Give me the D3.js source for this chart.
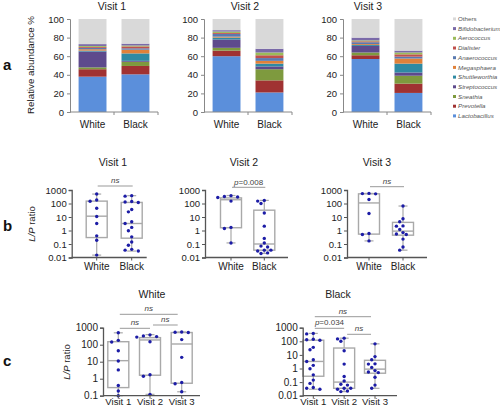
<!DOCTYPE html>
<html><head><meta charset="utf-8">
<script src="https://cdn.jsdelivr.net/npm/d3@7"></script>
<style>body{margin:0;background:#fff} svg{display:block;font-family:"Liberation Sans",Arial,sans-serif}</style>
</head><body><svg width="500" height="408"></svg>
<script>
// ---------------- DATA ----------------
const taxa = ["Lactobacillus","Prevotella","Sneathia","Streptococcus","Shuttleworthia","Megasphaera","Anaerococcus","Dialister","Aerococcus","Bifidobacterium","Others"];
const groups = ["White","Black"];
const visits = ["Visit 1","Visit 2","Visit 3"];
// relative abundance %, bottom to top in the order of `taxa`
const abundV1White = [38, 8, 2, 17, 1, 1.5, 1.5, 1, 1, 2, 27];
const abundV1Black = [40.5, 9, 4.5, 1, 8, 4, 1.5, 2, 1, 2, 26.5];
const abundV2White = [60, 6, 3, 9, 2, 1, 3, 1, 1.5, 1.5, 12];
const abundV2Black = [21, 13, 12, 3, 3, 3, 3, 3, 3, 4, 32];
const abundV3White = [57, 4, 3, 7, 1, 1, 2, 1, 1, 3, 20];
const abundV3Black = [20.5, 10, 8.5, 3.5, 9.5, 5.5, 2, 2.5, 2, 2, 34];
const abundTicks = [0, 20, 40, 60, 80, 100];

// L/P ratio per subject
const lpWhiteV1 = [500, 180, 145, 44, 11, 3.3, 0.4, 0.19, 0.015];
const lpWhiteV2 = [380, 330, 300, 280, 150, 1.7, 1.4, 0.12];
const lpWhiteV3 = [560, 540, 520, 200, 18, 0.6, 0.5, 0.17];
const lpBlackV1 = [380, 350, 140, 130, 120, 36, 24, 4.4, 3.3, 1.7, 0.95, 0.34, 0.14, 0.08, 0.04, 0.035, 0.03];
const lpBlackV2 = [170, 150, 100, 20, 2.1, 0.26, 0.12, 0.07, 0.06, 0.035, 0.03, 0.035, 0.022, 0.02];
const lpBlackV3 = [65, 7.5, 4.4, 2.2, 2.1, 1.2, 0.7, 0.55, 0.5, 0.23, 0.06, 0.035];
// box stats: [whisker low, q1, median, q3, whisker high]
const boxWhiteV1 = [0.015, 0.3, 11.5, 150, 500];
const boxWhiteV2 = [0.12, 1.6, 190, 260, 390];
const boxWhiteV3 = [0.17, 0.54, 110, 520, 560];
const boxBlackV1 = [0.03, 0.27, 3.3, 120, 380];
const boxBlackV2 = [0.02, 0.035, 0.1, 32, 170];
const boxBlackV3 = [0.035, 0.45, 0.9, 4, 65];
const logTicks = [0.01, 0.1, 1, 10, 100, 1000];
const logTickLabels = ["0.01", "0.1", "1", "10", "100", "1000"];
const sigB = ["ns", "p=0.008", "ns"];
const sigCWhite = [["Visit 1","Visit 3","ns"],["Visit 1","Visit 2","ns"],["Visit 2","Visit 3","ns"]];
const sigCBlack = [["Visit 1","Visit 3","ns"],["Visit 1","Visit 2","p=0.034"],["Visit 2","Visit 3","ns"]];

// ---------------- DRAW ----------------
const svg = d3.select("svg");
const color = d3.scaleOrdinal(taxa, ["#5b8fdb","#a03232","#7e9a3e","#5e4a8c","#2f8aa3","#e0813a","#5a7ab0","#c0504d","#9bbb59","#7a6aa8","#d9d9d9"]);

function label(x, y, txt, opt = {}) {
  const t = svg.append("text").attr("x", x).attr("y", y)
    .attr("font-size", opt.size || 10).attr("fill", opt.fill || "#222")
    .attr("text-anchor", opt.anchor || "middle");
  if (opt.weight) t.attr("font-weight", opt.weight);
  if (opt.italic) t.attr("font-style", "italic");
  if (opt.rotate) t.attr("transform", `rotate(-90,${x},${y})`);
  t.text(txt);
  return t;
}
function sigText(x, y, txt) {
  const t = svg.append("text").attr("x", x).attr("y", y).attr("font-size", 8)
    .attr("fill", "#444").attr("text-anchor", "middle");
  if (txt.startsWith("p=")) {
    t.append("tspan").attr("font-style", "italic").text("p");
    t.append("tspan").text(txt.slice(1));
  } else t.attr("font-style", "italic").text(txt);
}

// ---- panel a ----
label(3, 70, "a", {size: 15, weight: "bold", anchor: "start", fill: "#111"});
label(34, 65, "Relative abundance %", {size: 9.8, rotate: true});
const yA = d3.scaleLinear([0, 100], [112, 19]);
const abund = [[abundV1White, abundV1Black], [abundV2White, abundV2Black], [abundV3White, abundV3Black]];
const axA = [70, 204, 343];
const titleA = [112, 245, 368];
abund.forEach((pair, i) => {
  const x0 = axA[i];
  const x = d3.scaleBand(groups, [x0, x0 + 88]).paddingInner(0.35).paddingOuter(0.2);
  const rows = pair.map((vals, j) => { const r = {group: groups[j]}; taxa.forEach((t, k) => r[t] = vals[k]); return r; });
  const series = d3.stack().keys(taxa)(rows);
  const g = svg.append("g");
  g.selectAll("g").data(series).join("g").attr("fill", d => color(d.key))
    .selectAll("rect").data(d => d).join("rect")
    .attr("x", d => x(d.data.group)).attr("width", x.bandwidth())
    .attr("y", d => yA(d[1])).attr("height", d => yA(d[0]) - yA(d[1]));
  const ax = g.append("g").attr("transform", `translate(${x0},0)`)
    .call(d3.axisLeft(yA).tickValues(abundTicks).tickSize(3).tickPadding(3));
  ax.select(".domain").attr("stroke", "#888");
  ax.selectAll(".tick line").attr("stroke", "#888");
  ax.selectAll(".tick text").attr("font-size", 9.5).attr("fill", "#222").attr("font-family", null);
  const xa = g.append("g").attr("transform", `translate(0,${yA(0)})`)
    .call(d3.axisBottom(x).tickSize(0).tickPadding(9));
  xa.select(".domain").attr("stroke", "#888").attr("d", `M${x0},0H${x0 + 88}`);
  xa.selectAll(".tick text").attr("font-size", 10).attr("fill", "#222").attr("font-family", null);
  [x0 + 44, x0 + 88].forEach(tx => g.append("line").attr("x1", tx).attr("x2", tx).attr("y1", yA(0)).attr("y2", yA(0) + 3).attr("stroke", "#888"));
  label(titleA[i], 9.5, visits[i], {size: 10.5});
});
// legend
taxa.slice().reverse().forEach((t, i) => {
  const y = 19 + i * 9.7;
  svg.append("rect").attr("x", 453).attr("y", y - 1.6).attr("width", 3).attr("height", 3).attr("fill", color(t));
  label(458, y + 2, t, {size: 6.2, anchor: "start", fill: "#555", italic: t !== "Others"});
});

// ---- box plot helper ----
function dodge(vals, y, cx) {
  const placed = [], r = 1.7, step = 3.3;
  return vals.map(v => {
    const py = y(v);
    for (let k = 0; k < 30; k++) {
      const off = k === 0 ? 0 : (k % 2 ? -1 : 1) * Math.ceil(k / 2) * step;
      if (placed.every(p => Math.hypot(p.x - (cx + off), p.y - py) >= 2 * r + 0.4)) {
        placed.push({x: cx + off, y: py}); return {x: cx + off, y: py};
      }
    }
    return {x: cx, y: py};
  });
}
function boxPanel({x0, xEnd, cats, range, y, pts, boxes, tickVals, tickLabs, tickSize, catSize, catDy}) {
  const g = svg.append("g");
  const x = d3.scalePoint(cats, range);
  const bw = 21, cap = 9;
  cats.forEach((c, i) => {
    const cx = x(c), b = boxes[i];
    const st = "#a9a9a9";
    g.append("line").attr("x1", cx).attr("x2", cx).attr("y1", y(b[3])).attr("y2", y(b[4])).attr("stroke", st).attr("stroke-width", 1.2);
    g.append("line").attr("x1", cx).attr("x2", cx).attr("y1", y(b[1])).attr("y2", y(b[0])).attr("stroke", st).attr("stroke-width", 1.2);
    [b[0], b[4]].forEach(v => g.append("line").attr("x1", cx - cap / 2).attr("x2", cx + cap / 2).attr("y1", y(v)).attr("y2", y(v)).attr("stroke", st).attr("stroke-width", 1.2));
    g.append("rect").attr("x", cx - bw / 2).attr("width", bw).attr("y", y(b[3])).attr("height", y(b[1]) - y(b[3]))
      .attr("fill", "none").attr("stroke", st).attr("stroke-width", 1.4);
    g.append("line").attr("x1", cx - bw / 2).attr("x2", cx + bw / 2).attr("y1", y(b[2])).attr("y2", y(b[2])).attr("stroke", st).attr("stroke-width", 1.4);
  });
  cats.forEach((c, i) => {
    g.append("g").selectAll("circle").data(dodge(pts[i], y, x(c))).join("circle")
      .attr("cx", d => d.x).attr("cy", d => d.y).attr("r", 1.7).attr("fill", "#1c1ca6");
  });
  const ax = g.append("g").attr("transform", `translate(${x0},0)`)
    .call(d3.axisLeft(y).tickValues(tickVals).tickFormat((d, i) => tickLabs[tickVals.indexOf(d)]).tickSize(3).tickPadding(2));
  ax.select(".domain").attr("stroke", "#555").attr("stroke-width", 1.3);
  ax.selectAll(".tick line").attr("stroke", "#555");
  ax.selectAll(".tick text").attr("font-size", tickSize).attr("fill", "#222").attr("font-family", null);
  const yb = y.range()[0];
  g.append("line").attr("x1", x0).attr("x2", xEnd).attr("y1", yb).attr("y2", yb).attr("stroke", "#555").attr("stroke-width", 1.3);
  cats.forEach(c => {
    g.append("line").attr("x1", x(c)).attr("x2", x(c)).attr("y1", yb).attr("y2", yb + 3).attr("stroke", "#555");
    label(x(c), yb + catDy, c, {size: catSize});
  });
  return x;
}

// ---- panel b ----
label(3, 231, "b", {size: 15, weight: "bold", anchor: "start", fill: "#111"});
const lpT = svg.append("text").attr("transform", "rotate(-90,35,224)").attr("x", 35).attr("y", 224)
  .attr("font-size", 9.5).attr("text-anchor", "middle").attr("fill", "#222");
lpT.append("tspan").attr("font-style", "italic").text("L/P");
lpT.append("tspan").text(" ratio");
const yB = d3.scaleLog([0.01, 1000], [257.5, 190]).clamp(true);
const axB = [71.7, 205, 347];
const bPts = [[lpWhiteV1, lpBlackV1], [lpWhiteV2, lpBlackV2], [lpWhiteV3, lpBlackV3]];
const bBox = [[boxWhiteV1, boxBlackV1], [boxWhiteV2, boxBlackV2], [boxWhiteV3, boxBlackV3]];
const bOff = [[25, 60], [26, 59.3], [22, 56]];
const bEnd = [75, 83, 80];
const bTitle = [113, 244, 377];
const bSigY = [186, 187.3, 186.7];
visits.forEach((v, i) => {
  const x0 = axB[i];
  const x = boxPanel({x0, xEnd: x0 + bEnd[i], cats: groups, range: [x0 + bOff[i][0], x0 + bOff[i][1]], y: yB,
    pts: bPts[i], boxes: bBox[i], tickVals: logTicks, tickLabs: logTickLabels, tickSize: 9.5, catSize: 10, catDy: 12});
  label(bTitle[i], 166, v, {size: 10.5});
  svg.append("line").attr("x1", x("White") + 1).attr("x2", x("Black") + 1).attr("y1", bSigY[i]).attr("y2", bSigY[i]).attr("stroke", "#999");
  sigText((x("White") + x("Black")) / 2 + 1, bSigY[i] - 2.8, sigB[i]);
});

// ---- panel c ----
label(3, 366, "c", {size: 15, weight: "bold", anchor: "start", fill: "#111"});
const lpC = svg.append("text").attr("transform", "rotate(-90,70,362)").attr("x", 70).attr("y", 362)
  .attr("font-size", 9.5).attr("text-anchor", "middle").attr("fill", "#222");
lpC.append("tspan").attr("font-style", "italic").text("L/P");
lpC.append("tspan").text(" ratio");
const yCW = d3.scaleLog([0.1, 1000], [395.7, 327.7]).clamp(true);
const yCB = d3.scaleLog([0.01, 1000], [395.7, 327.7]).clamp(true);
const xCW = boxPanel({x0: 103, xEnd: 200, cats: visits, range: [118.3, 181.7], y: yCW,
  pts: [lpWhiteV1, lpWhiteV2, lpWhiteV3], boxes: [boxWhiteV1, boxWhiteV2, boxWhiteV3],
  tickVals: logTicks.slice(1), tickLabs: logTickLabels.slice(1), tickSize: 10, catSize: 9.6, catDy: 9.6});
const xCB = boxPanel({x0: 302.7, xEnd: 397, cats: visits, range: [313.3, 375], y: yCB,
  pts: [lpBlackV1, lpBlackV2, lpBlackV3], boxes: [boxBlackV1, boxBlackV2, boxBlackV3],
  tickVals: logTicks, tickLabs: logTickLabels, tickSize: 10, catSize: 9.6, catDy: 9.6});
label(152, 298, "White", {size: 10.5});
label(338, 298, "Black", {size: 10.5});
function sigC(x, list, ys) {
  list.forEach(([a, b, t], i) => {
    const x1 = x(a) + (i === 2 ? 3 : 1.5), x2 = x(b) - (i === 1 ? 0 : 4);
    svg.append("line").attr("x1", x1).attr("x2", x2).attr("y1", ys[i]).attr("y2", ys[i]).attr("stroke", "#999");
    sigText((x1 + x2) / 2, ys[i] - 3, t);
  });
}
sigC(xCW, sigCWhite, [314.3, 328.3, 325]);
sigC(xCB, sigCBlack, [316.7, 328.3, 334.3]);
</script></body></html>
